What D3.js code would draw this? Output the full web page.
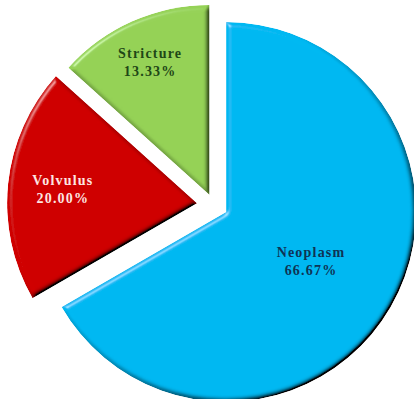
<!DOCTYPE html>
<html>
<head>
<meta charset="utf-8">
<script src="https://cdn.jsdelivr.net/npm/d3@7"></script>
<style>
  html, body { margin: 0; padding: 0; background: #ffffff; }
  svg { display: block; }
</style>
</head>
<body>
<svg id="chart" width="414" height="399"></svg>
<script>
// Causes of obstruction, share of cases
const categories = ["Neoplasm", "Volvulus", "Stricture"];
const percentages = [66.67, 20.00, 13.33];
const percentLabels = ["66.67%", "20.00%", "13.33%"];

// Styling per slice
const sliceColors = ["#02b8f2", "#cf0404", "#95d256"];
const textColors = ["#0f3355", "#fde6e2", "#1f4716"];
const explodeBy = [14, 17, 11];
const labelRadius = [98, 135, 146];

const svg = d3.select("#chart");
const cx = 214, cy = 205, radius = 190;

// Bevelled "3D" surface: lit from the upper left
const defs = svg.append("defs");
const f = defs.append("filter").attr("id", "bevel")
  .attr("x", "-5%").attr("y", "-5%").attr("width", "110%").attr("height", "110%");
f.append("feGaussianBlur").attr("in", "SourceAlpha").attr("stdDeviation", 2.5).attr("result", "blur");
const diff = f.append("feDiffuseLighting").attr("in", "blur").attr("surfaceScale", 4)
  .attr("diffuseConstant", 1.414).attr("lighting-color", "#ffffff").attr("result", "diff");
diff.append("feDistantLight").attr("azimuth", 225).attr("elevation", 45);
f.append("feComposite").attr("in", "SourceGraphic").attr("in2", "diff").attr("operator", "arithmetic")
  .attr("k1", 1).attr("k2", 0).attr("k3", 0).attr("k4", 0).attr("result", "shaded");
const spec = f.append("feSpecularLighting").attr("in", "blur").attr("surfaceScale", 3)
  .attr("specularConstant", 0.6).attr("specularExponent", 60).attr("lighting-color", "#ffffff").attr("result", "spec");
spec.append("feDistantLight").attr("azimuth", 225).attr("elevation", 40);
f.append("feComposite").attr("in", "spec").attr("in2", "SourceAlpha").attr("operator", "in").attr("result", "specIn");
f.append("feComposite").attr("in", "shaded").attr("in2", "specIn").attr("operator", "arithmetic")
  .attr("k1", 0).attr("k2", 1).attr("k3", 0.5).attr("k4", 0).attr("result", "lit");
f.append("feComposite").attr("in", "lit").attr("in2", "SourceAlpha").attr("operator", "in");

const slices = d3.pie().sort(null).value(d => d)(percentages);
const arc = d3.arc().innerRadius(0).outerRadius(radius);

const g = svg.append("g").attr("transform", `translate(${cx},${cy})`);

const sliceG = g.selectAll("g.slice")
  .data(slices)
  .join("g")
  .attr("class", "slice")
  .attr("transform", (d, i) => {
    const mid = (d.startAngle + d.endAngle) / 2;
    return `translate(${Math.sin(mid) * explodeBy[i]},${-Math.cos(mid) * explodeBy[i]})`;
  });

sliceG.append("path")
  .attr("d", arc)
  .attr("fill", (d, i) => sliceColors[i])
  .attr("filter", "url(#bevel)");

const labels = sliceG.append("text")
  .attr("transform", (d, i) => {
    const mid = (d.startAngle + d.endAngle) / 2;
    return `translate(${Math.sin(mid) * labelRadius[i]},${-Math.cos(mid) * labelRadius[i]})`;
  })
  .attr("text-anchor", "middle")
  .attr("font-family", "'Liberation Serif', 'Times New Roman', serif")
  .attr("font-weight", "bold")
  .attr("font-size", 14)
  .attr("letter-spacing", 1.2)
  .attr("fill", (d, i) => textColors[i]);

labels.append("tspan").attr("x", 0).attr("y", -4).text((d, i) => categories[i]);
labels.append("tspan").attr("x", 0).attr("y", 14).text((d, i) => percentLabels[i]);
</script>
</body>
</html>
